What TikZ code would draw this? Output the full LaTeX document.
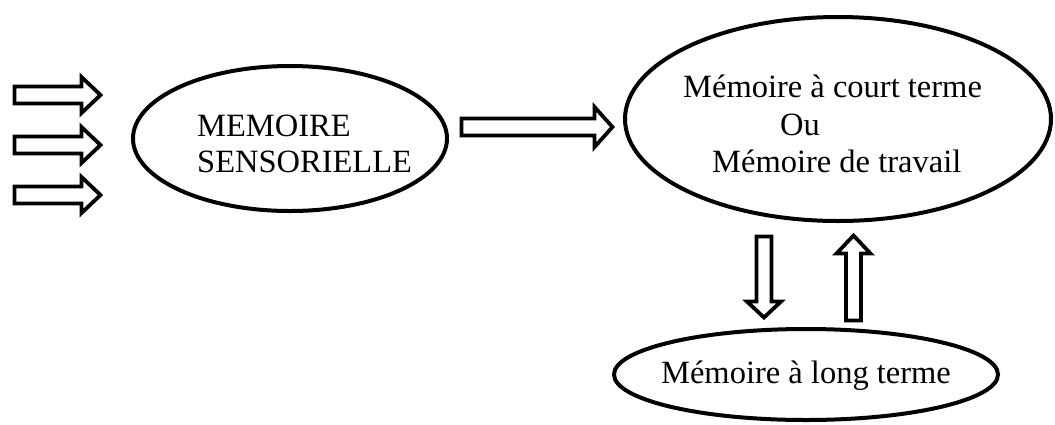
\documentclass[tikz,border=0pt]{standalone}
\usepackage{fontspec}
\setmainfont{Liberation Serif}
\usetikzlibrary{shapes.geometric}
\tikzset{
  oval/.style={ellipse, draw=black, line width=4bp, inner sep=0pt},
  lbl/.style={font=\fontsize{32.5bp}{36bp}\selectfont, inner sep=0pt, text=black},
  arrowline/.style={draw=black, line width=3.8bp, fill=white, line join=miter}
}
\newcommand\blockarr[7]{\draw[arrowline,shift={(#1,#2)},rotate=#3] (0,-#6) -- ({#4-#5},-#6) -- ({#4-#5},-#7) -- (#4,0) -- ({#4-#5},#7) -- ({#4-#5},#6) -- (0,#6) -- cycle;}
\begin{document}
\begin{tikzpicture}[x=1bp,y=-1bp]
\useasboundingbox (0,0) rectangle (1055,424);
% ellipses
\node[oval, minimum width=314bp, minimum height=145bp] (ms) at (290,138.5) {};
\node[oval, minimum width=426bp, minimum height=204bp] (mct) at (838,119) {};
\node[oval, minimum width=384bp, minimum height=91bp] (mlt) at (806,374.5) {};
% texts
\node[lbl, anchor=base west] (t1) at (197,136) {MEMOIRE};
\node[lbl, anchor=base west] (t2) at (197,172) {SENSORIELLE};
\node[lbl, anchor=base west] (t3) at (683,97) {Mémoire à court terme};
\node[lbl, anchor=base west] (t4) at (780,135) {Ou};
\node[lbl, anchor=base west] (t5) at (712,172) {Mémoire de travail};
\node[lbl, anchor=base] (t6) at (806,383) {Mémoire à long terme};
% input arrows
\blockarr{14.5}{95}{0}{86}{19}{8.5}{18}
\blockarr{14.5}{145}{0}{86}{19}{8.5}{18}
\blockarr{14.5}{195}{0}{86}{19}{8.5}{18}
% sensory -> short term
\blockarr{461.5}{127}{0}{151}{18}{8.5}{20}
% short term -> long term
\blockarr{764}{236.5}{-90}{81}{16}{7.5}{17}
% long term -> short term
\blockarr{853.5}{320.5}{90}{85}{18}{7.5}{17}
\end{tikzpicture}
\end{document}
